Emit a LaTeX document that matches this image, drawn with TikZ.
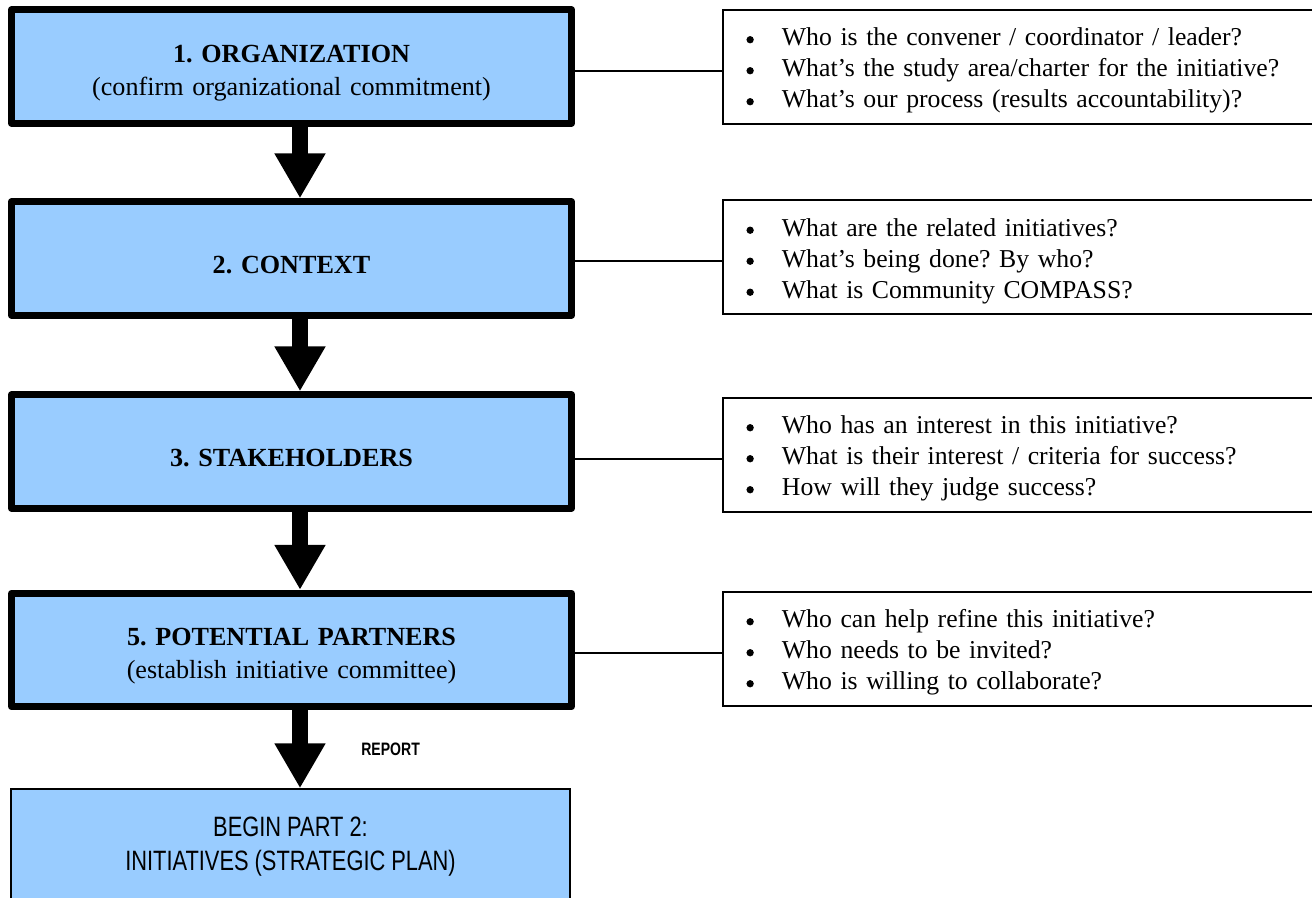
\documentclass[tikz,border=0pt]{standalone}
\usepackage{fontspec}
\setmainfont{Liberation Serif}
\newfontfamily\narrowsans[FakeStretch=0.78]{Liberation Sans}
\usetikzlibrary{arrows.meta,positioning,calc}
\definecolor{boxblue}{HTML}{99CCFF}
\newcommand\ask{\makebox[26.6pt][l]{\tikz[baseline=0pt]\fill (3.6pt,4.5pt) circle (2.75pt);}}

\begin{document}
\frenchspacing
\begin{tikzpicture}[x=0.75pt,y=-0.75pt,
	stepbox/.style={draw, line width=5.25pt, line join=round, fill=boxblue, minimum width=420pt, minimum height=85pt, text width=400pt, align=center, font=\fontsize{19.6}{24.5}\selectfont, execute at begin node={\rule{0pt}{22.5pt}}},
	askbox/.style={draw, line width=1.5pt, anchor=west, outer sep=0pt, minimum height=85.5pt, text width=420pt, inner xsep=17.6pt, align=left, font=\fontsize{19.3}{23.25}\selectfont, execute at begin node={\rule{0pt}{19.5pt}}},
	endbox/.style={draw, line width=1.1pt, fill=boxblue, minimum width=419.25pt, minimum height=87pt, align=center, font=\narrowsans\fontsize{21}{25.5}\selectfont},
	link/.style={line width=1.5pt},
	bigarrow/.style={line width=12pt, -{Triangle[width=36pt,length=33.75pt]}},
	report/.style={anchor=west, inner sep=0pt, xshift=40pt, font=\narrowsans\bfseries\fontsize{13.5}{15}\selectfont}]
	\useasboundingbox (0,0) rectangle (1312,897);
	\node[stepbox] (s1) at (291.5,66.5) {\textbf{1. ORGANIZATION}\\(confirm organizational commitment)};
	\node[stepbox] (s2) at (291.5,258.5) {\textbf{2. CONTEXT}};
	\node[stepbox] (s3) at (291.5,451.5) {\textbf{3. STAKEHOLDERS}};
	\node[stepbox] (s5) at (291.5,650) {\textbf{5. POTENTIAL PARTNERS}\\(establish initiative committee)};
	\node[endbox] (s6) at (290.5,847) {BEGIN PART 2:\\INITIATIVES (STRATEGIC PLAN)};
	\node[askbox] (q1) at (723,66.5) {\ask Who is the convener / coordinator / leader?\\
		\ask What's the study area/charter for the initiative?\\
		\ask What's our process (results accountability)?};
	\node[askbox] (q2) at (723,257) {\ask What are the related initiatives?\\
		\ask What's being done? By who?\\
		\ask What is Community COMPASS?};
	\node[askbox] (q3) at (723,454.5) {\ask Who has an interest in this initiative?\\
		\ask What is their interest / criteria for success?\\
		\ask How will they judge success?};
	\node[askbox] (q4) at (723,648.5) {\ask Who can help refine this initiative?\\
		\ask Who needs to be invited?\\
		\ask Who is willing to collaborate?};
	\coordinate (spine) at (300,0);
	\draw[bigarrow] (s1.south -| spine) -- (s2.north -| spine);
	\draw[bigarrow] (s2.south -| spine) -- (s3.north -| spine);
	\draw[bigarrow] (s3.south -| spine) -- (s5.north -| spine);
	\draw[bigarrow] (s5.south -| spine) -- node[report] {REPORT} (s6.north -| spine);
	\draw[link] ([yshift=-3pt]q1.west) -- ([yshift=-3pt]q1.west -| s1.east);
	\draw[link] ([yshift=-3pt]q2.west) -- ([yshift=-3pt]q2.west -| s2.east);
	\draw[link] ([yshift=-3pt]q3.west) -- ([yshift=-3pt]q3.west -| s3.east);
	\draw[link] ([yshift=-3pt]q4.west) -- ([yshift=-3pt]q4.west -| s5.east);
\end{tikzpicture}
\end{document}
